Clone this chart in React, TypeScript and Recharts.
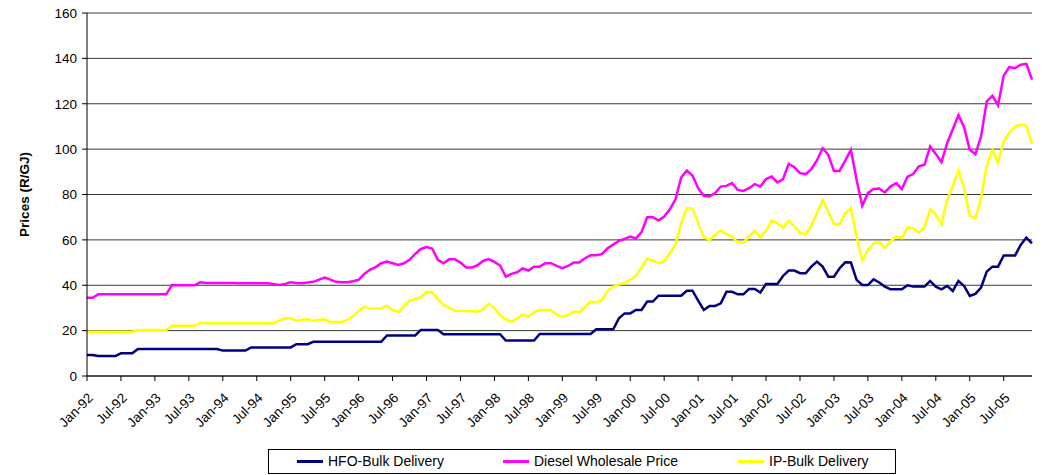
import { LineChart, Line, XAxis, YAxis, CartesianGrid } from "recharts";

// monthly prices, Jan-92 .. Dec-05 (R/GJ)
const monthNames = ["Jan", "Feb", "Mar", "Apr", "May", "Jun", "Jul", "Aug", "Sep", "Oct", "Nov", "Dec"];
const years = ["92", "93", "94", "95", "96", "97", "98", "99", "00", "01", "02", "03", "04", "05"];
const months: string[] = [];
years.forEach((y) => monthNames.forEach((m) => months.push(`${m}-${y}`)));

const hfo = [
  9.3, 9.3, 8.8, 8.8, 8.8, 8.8, 10, 10, 10, 11.9,
  11.9, 11.9, 11.9, 11.9, 11.9, 11.9, 11.9, 11.9, 11.9, 11.9,
  11.9, 11.9, 11.9, 11.9, 11.2, 11.2, 11.2, 11.2, 11.2, 12.6,
  12.6, 12.6, 12.6, 12.6, 12.6, 12.6, 12.6, 14, 14, 14,
  15.1, 15.1, 15.1, 15.1, 15.1, 15.1, 15.1, 15.1, 15.1, 15.1,
  15.1, 15.1, 15.1, 17.9, 17.9, 17.9, 17.9, 17.9, 17.9, 20.3,
  20.3, 20.3, 20.3, 18.4, 18.4, 18.4, 18.4, 18.4, 18.4, 18.4,
  18.4, 18.4, 18.4, 18.4, 15.6, 15.6, 15.6, 15.6, 15.6, 15.6,
  18.5, 18.5, 18.5, 18.5, 18.5, 18.5, 18.5, 18.5, 18.5, 18.5,
  20.6, 20.6, 20.6, 20.6, 25.4, 27.6, 27.6, 29.1, 29.1, 32.8,
  32.8, 35.4, 35.4, 35.4, 35.4, 35.4, 37.6, 37.6, 33.2, 29.1,
  30.9, 30.9, 32, 37.1, 37.1, 36, 36, 38.4, 38.4, 36.8,
  40.6, 40.6, 40.6, 44.1, 46.5, 46.5, 45.3, 45.3, 48.2, 50.4,
  48.2, 43.8, 43.8, 47.5, 50.1, 50, 42.4, 40.1, 40.1, 42.6,
  41.2, 39.4, 38.2, 38.2, 38.2, 40, 39.4, 39.4, 39.4, 41.9,
  39.4, 38.2, 39.7, 37.5, 41.9, 39.7, 35.3, 36.2, 39, 46,
  48.2, 48.2, 53.1, 53.1, 53.1, 57.8, 61, 58.5,
];

const diesel = [
  34.5, 34.5, 36, 36, 36, 36, 36, 36, 36, 36,
  36, 36, 36, 36, 36, 40, 40, 40, 40, 40,
  41.3, 41, 41, 41, 41, 41, 41, 40.9, 40.9, 40.9,
  40.9, 40.9, 40.9, 40.5, 40.1, 40.6, 41.3, 41, 40.9, 41.2,
  41.5, 42.5, 43.4, 42.5, 41.5, 41.3, 41.3, 41.8, 42.4, 45,
  46.8, 48, 49.7, 50.4, 49.7, 49, 49.7, 51.2, 53.8, 56,
  56.8, 56.2, 51.2, 49.7, 51.5, 51.5, 50, 47.8, 47.8, 48.8,
  50.7, 51.5, 50.3, 48.7, 43.8, 45, 45.7, 47.4, 46.5, 48.2,
  48.2, 49.7, 49.7, 48.5, 47.5, 48.5, 50, 50, 51.9, 53.2,
  53.2, 53.7, 56.3, 57.9, 59.6, 60.4, 61.5, 60.6, 63.4, 70,
  70, 68.5, 70.3, 73.5, 77.9, 87.5, 90.6, 88.4, 82.8, 79.4,
  79.1, 80.6, 83.5, 83.8, 85, 82, 81.6, 82.8, 84.6, 83.5,
  86.8, 87.9, 85.3, 86.8, 93.5, 92, 89.4, 89, 91.2, 95,
  100.4, 97.5, 90.4, 90.4, 94.9, 99.7, 86.5, 75, 80.6, 82.4,
  82.6, 80.9, 83.5, 85, 82.4, 87.9, 89, 92.4, 93.1, 101.2,
  97.9, 94.3, 102.6, 108.8, 115, 109.7, 99.7, 97.8, 105.6, 121,
  123.5, 119.3, 132.4, 136.2, 135.7, 137.2, 137.6, 130.6,
];

const ip = [
  19.5, 19.5, 19.5, 19.5, 19.5, 19.5, 19.5, 19.5, 19.5, 20.3,
  20.3, 20.3, 20.3, 20.3, 20.3, 22.1, 22.1, 22.1, 22.1, 22.1,
  23.5, 23.2, 23.2, 23.2, 23.2, 23.2, 23.2, 23.2, 23.2, 23.2,
  23.2, 23.2, 23.2, 23.2, 24.5, 25.4, 25.4, 24.4, 24.8, 25,
  24.4, 24.8, 25, 23.8, 23.8, 23.8, 24.7, 26.5, 28.8, 30.6,
  29.6, 29.8, 29.9, 31, 29.1, 28.1, 30.6, 33.2, 34, 34.7,
  37, 37, 33.8, 31.2, 30.1, 28.8, 28.7, 28.7, 28.5, 28.3,
  29.6, 31.8, 29.9, 26.9, 25, 24, 25.4, 27, 26.2, 28.2,
  29.1, 29.1, 29.1, 27, 26, 26.9, 28.4, 28.1, 30.6, 32.8,
  32.4, 33.5, 37.5, 39.4, 40.4, 40.9, 42.4, 44.1, 47.9, 51.8,
  50.9, 49.7, 50.7, 54.1, 58.1, 67.4, 74, 73.8, 67.4, 61.2,
  59.9, 62.2, 64.1, 62.6, 61.5, 58.8, 58.8, 61.5, 64.1, 61.2,
  64.1, 68.5, 67.4, 65.4, 68.5, 65.9, 63.2, 62.6, 66.2, 72,
  77.4, 72.5, 66.9, 66.9, 71.8, 74, 61.5, 50.9, 55.6, 58.5,
  59, 56.6, 59.3, 61.5, 60.7, 65.6, 65.1, 63.2, 65.6, 73.5,
  71, 66.9, 77.6, 83.8, 90.6, 82.8, 70.6, 69.6, 78.4, 92.4,
  99.7, 94.1, 103.4, 107.4, 110, 110.7, 110.4, 102.2,
];

const yTicks = [0, 20, 40, 60, 80, 100, 120, 140, 160];

const data = months.map((m, i) => ({ month: m, hfo: hfo[i], diesel: diesel[i], ip: ip[i] }));

const font = "'Liberation Sans', Arial, sans-serif";

function YLabel(props: any) {
  const vb = props.viewBox || {};
  const cy = (vb.y || 0) + (vb.height || 0) / 2;
  const cx = 24;
  return (
    <text
      x={cx}
      y={cy}
      textAnchor="middle"
      dominantBaseline="central"
      fontSize={13.5}
      fontWeight="bold"
      fontFamily={font}
      fill="#000"
      transform={`rotate(-90 ${cx} ${cy})`}
    >
      Prices (R/GJ)
    </text>
  );
}

const legendItems = [
  { name: "HFO-Bulk Delivery", color: "#000080", left: 28 },
  { name: "Diesel Wholesale Price", color: "#ff00ff", left: 234 },
  { name: "IP-Bulk Delivery", color: "#ffff00", left: 469 },
];

export default function App() {
  return (
    <div style={{ position: "absolute", left: 0, top: 0, width: 1045, height: 475, background: "#fff" }}>
      <LineChart
        width={1045}
        height={475}
        data={data}
        margin={{ top: 13, right: 13, left: 0, bottom: 0 }}
      >
        <CartesianGrid vertical={false} stroke="#3a3a3a" strokeWidth={1} />
        <XAxis
          dataKey="month"
          interval={5}
          height={99}
          tickSize={5}
          tickMargin={11}
          angle={-45}
          textAnchor="end"
          tick={{ fontSize: 13.5, fill: "#000", fontFamily: font }}
          axisLine={{ stroke: "#000" }}
          tickLine={{ stroke: "#000" }}
        />
        <YAxis
          width={87}
          domain={[0, 160]}
          ticks={yTicks}
          interval={0}
          tickSize={5}
          tickMargin={5}
          axisLine={{ stroke: "#000" }}
          tickLine={{ stroke: "#000" }}
          tick={{ fontSize: 13.5, fill: "#000", fontFamily: font }}
          label={{ content: (p: any) => <YLabel {...p} /> }}
        />
        <YAxis
          yAxisId="border"
          orientation="right"
          width={0}
          domain={[0, 160]}
          tick={false}
          tickLine={false}
          axisLine={{ stroke: "#000" }}
        />
        <Line type="linear" dataKey="hfo" name="HFO-Bulk Delivery" stroke="#000080" strokeWidth={2.5} dot={false} isAnimationActive={false} />
        <Line type="linear" dataKey="diesel" name="Diesel Wholesale Price" stroke="#ff00ff" strokeWidth={2.5} dot={false} isAnimationActive={false} />
        <Line type="linear" dataKey="ip" name="IP-Bulk Delivery" stroke="#ffff00" strokeWidth={2.5} dot={false} isAnimationActive={false} />
      </LineChart>
      <div
        style={{
          position: "absolute",
          left: 268,
          top: 449,
          width: 628,
          height: 25,
          border: "1px solid #000",
          boxSizing: "border-box",
          fontFamily: font,
          fontSize: 14,
          color: "#000",
        }}
      >
        {legendItems.map((it) => (
          <div key={it.name} style={{ position: "absolute", left: it.left, top: 3, display: "flex", alignItems: "center", whiteSpace: "nowrap" }}>
            <span style={{ display: "inline-block", width: 26, height: 3, background: it.color, marginRight: 5 }} />
            <span>{it.name}</span>
          </div>
        ))}
      </div>
    </div>
  );
}
